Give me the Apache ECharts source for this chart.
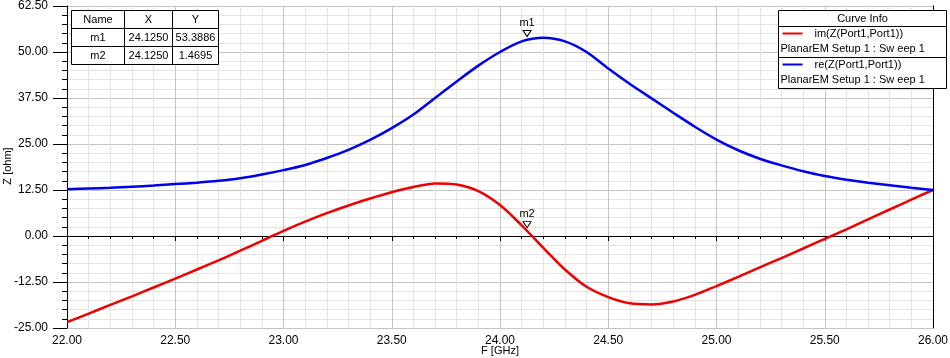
<!DOCTYPE html>
<html>
<head>
<meta charset="utf-8">
<script src="https://cdn.jsdelivr.net/npm/echarts@6/dist/echarts.min.js"></script>
<style>
  html, body { margin: 0; padding: 0; background: #fff; }
  #chart { width: 950px; height: 358px; }
</style>
</head>
<body>
<div id="chart"></div>
<script>
// frequency points (GHz)
var freq = [22.0, 22.1, 22.2, 22.3, 22.4, 22.5, 22.6, 22.7, 22.8, 22.9,
            23.0, 23.1, 23.2, 23.3, 23.4, 23.5, 23.6, 23.7, 23.8, 23.9,
            24.0, 24.1, 24.2, 24.3, 24.4, 24.5, 24.6, 24.7, 24.8, 24.9,
            25.0, 25.1, 25.2, 25.3, 25.4, 25.5, 25.6, 25.7, 25.8, 25.9, 26.0];
// re(Z(Port1,Port1))
var reZ = [12.7, 12.9, 13.1, 13.4, 13.7, 14.1, 14.5, 15.0, 15.7, 16.7,
           17.9, 19.3, 21.2, 23.4, 26.1, 29.3, 33.0, 37.5, 42.0, 46.3,
           50.0, 52.9, 53.9, 52.9, 50.0, 45.5, 41.3, 37.4, 33.5, 29.7,
           26.2, 23.3, 21.0, 19.2, 17.6, 16.3, 15.3, 14.5, 13.8, 13.1, 12.5];
// im(Z(Port1,Port1))
var imZ = [-23.4, -21.1, -18.7, -16.4, -14.0, -11.6, -9.1, -6.6, -4.0, -1.3,
           1.4, 3.9, 6.2, 8.3, 10.2, 11.9, 13.3, 14.3, 14.0, 12.2,
           8.4, 2.9, -3.2, -9.1, -13.8, -16.6, -18.3, -18.6, -17.8, -16.0,
           -13.6, -11.1, -8.5, -6.0, -3.4, -0.8, 1.8, 4.5, 7.2, 9.9, 12.5];

// marker table
var markerNames = ['m1', 'm2'];
var markerX = [24.1250, 24.1250];
var markerY = [53.3886, 1.4695];

// curve info
var curveNames = ['im(Z(Port1,Port1))', 're(Z(Port1,Port1))'];
var curveSetup = 'PlanarEM Setup 1 : Sw eep 1';
var curveColors = ['#f00000', '#0000f0'];

var xName = 'F [GHz]';
var yName = 'Z [ohm]';

var FONT = '"Liberation Sans", Arial, sans-serif';

function pairs(ys) {
  var out = [];
  for (var i = 0; i < freq.length; i++) out.push([freq[i], ys[i]]);
  return out;
}

function marker(i) {
  return {
    coord: [markerX[i], markerY[i]],
    symbol: 'triangle',
    symbolRotate: 180,
    symbolSize: [8, 6],
    symbolOffset: [0, -6],
    itemStyle: { color: '#fff', borderColor: '#000', borderWidth: 1 },
    label: {
      show: true, position: 'top', distance: 2,
      formatter: markerNames[i], color: '#000', fontSize: 11, fontFamily: FONT
    }
  };
}

// marker table (graphic)
var tbl = [];
var tx = 71.5, ty = 10.5, colW = [53, 48, 46], rowH = [18, 18, 18];
var tableRows = [['Name', 'X', 'Y']];
for (var i = 0; i < markerNames.length; i++) {
  tableRows.push([markerNames[i], markerX[i].toFixed(4), markerY[i].toFixed(4)]);
}
var totalW = colW[0] + colW[1] + colW[2];
var totalH = rowH[0] + rowH[1] + rowH[2];
tbl.push({ type: 'rect', shape: { x: tx, y: ty, width: totalW, height: totalH },
  style: { fill: '#fff', stroke: '#000', lineWidth: 1 }, z: 100 });
var cy = ty;
for (var r = 0; r < tableRows.length; r++) {
  var cx = tx;
  for (var c = 0; c < 3; c++) {
    tbl.push({ type: 'text', x: cx + colW[c] / 2, y: cy + rowH[r] / 2, z: 101,
      style: { text: tableRows[r][c], fill: '#000', font: '11px ' + FONT,
        align: 'center', verticalAlign: 'middle' } });
    cx += colW[c];
  }
  cy += rowH[r];
  if (r < tableRows.length - 1) {
    tbl.push({ type: 'line', shape: { x1: tx, y1: cy, x2: tx + totalW, y2: cy },
      style: { stroke: '#000', lineWidth: 1 }, z: 101 });
  }
}
tbl.push({ type: 'line', shape: { x1: tx + colW[0], y1: ty, x2: tx + colW[0], y2: ty + totalH },
  style: { stroke: '#000', lineWidth: 1 }, z: 101 });
tbl.push({ type: 'line', shape: { x1: tx + colW[0] + colW[1], y1: ty, x2: tx + colW[0] + colW[1], y2: ty + totalH },
  style: { stroke: '#000', lineWidth: 1 }, z: 101 });

// curve info box (graphic)
var bx = 778.5, by = 10.5, bw = 168, bh = 78;
tbl.push({ type: 'rect', shape: { x: bx, y: by, width: bw, height: bh },
  style: { fill: '#fff', stroke: '#000', lineWidth: 1 }, z: 100 });
tbl.push({ type: 'text', x: bx + bw / 2, y: by + 8, z: 101,
  style: { text: 'Curve Info', fill: '#000', font: '11px ' + FONT, align: 'center', verticalAlign: 'middle' } });
tbl.push({ type: 'line', shape: { x1: bx, y1: by + 16, x2: bx + bw, y2: by + 16 },
  style: { stroke: '#000', lineWidth: 1 }, z: 101 });
for (var k = 0; k < curveNames.length; k++) {
  var ry = by + 16 + k * 31;
  tbl.push({ type: 'line', shape: { x1: bx + 4, y1: ry + 7, x2: bx + 24, y2: ry + 7 },
    style: { stroke: curveColors[k], lineWidth: 2 }, z: 101 });
  tbl.push({ type: 'text', x: bx + 36, y: ry + 7, z: 101,
    style: { text: curveNames[k], fill: '#000', font: '11px ' + FONT, align: 'left', verticalAlign: 'middle' } });
  tbl.push({ type: 'text', x: bx + 2, y: ry + 22, z: 101,
    style: { text: curveSetup, fill: '#000', font: '11px ' + FONT, align: 'left', verticalAlign: 'middle' } });
  if (k === 0) {
    tbl.push({ type: 'line', shape: { x1: bx, y1: ry + 31, x2: bx + bw, y2: ry + 31 },
      style: { stroke: '#000', lineWidth: 1 }, z: 101 });
  }
}

// axis titles
tbl.push({ type: 'text', x: 500, y: 351, z: 101,
  style: { text: xName, fill: '#000', font: '11px ' + FONT, align: 'center', verticalAlign: 'middle' } });
tbl.push({ type: 'text', x: 8, y: 166, rotation: Math.PI / 2, z: 101,
  style: { text: yName, fill: '#000', font: '11px ' + FONT, align: 'center', verticalAlign: 'middle' } });

var chart = echarts.init(document.getElementById('chart'));
var option = {
  animation: false,
  backgroundColor: '#fff',
  textStyle: { fontFamily: FONT },
  grid: { left: 67, right: 17, top: 6, bottom: 30, outerBoundsMode: 'none', containLabel: false },
  xAxis: [{
    type: 'value', min: 22, max: 26, interval: 0.5,
    axisLine: { lineStyle: { color: '#000', width: 1 } },
    axisTick: { show: true, length: 5, lineStyle: { color: '#000' } },
    minorTick: { show: true, splitNumber: 5, length: 3, lineStyle: { color: '#000' } },
    axisLabel: { color: '#000', fontSize: 12, margin: 7, formatter: function (v) { return v.toFixed(2); } },
    splitLine: { show: true, lineStyle: { color: '#c4c4c4', width: 1 } },
    minorSplitLine: { show: true, lineStyle: { color: '#e4e4e4', width: 1 } }
  }, {
    type: 'value', position: 'top', min: 22, max: 26,
    axisLine: { show: true, lineStyle: { color: '#000', width: 1 } },
    axisTick: { show: false }, axisLabel: { show: false }, splitLine: { show: false }
  }],
  yAxis: [{
    type: 'value', min: -25, max: 62.5, interval: 12.5,
    axisLine: { show: true, lineStyle: { color: '#000', width: 1 } },
    axisTick: { show: true, length: 14, lineStyle: { color: '#000' } },
    minorTick: { show: true, splitNumber: 5, length: 5, lineStyle: { color: '#000' } },
    axisLabel: { color: '#000', fontSize: 12, margin: 19, formatter: function (v) { return v.toFixed(2); } },
    splitLine: { show: true, lineStyle: { color: '#c4c4c4', width: 1 } },
    minorSplitLine: { show: true, lineStyle: { color: '#e4e4e4', width: 1 } }
  }, {
    type: 'value', position: 'right', min: -25, max: 62.5,
    axisLine: { show: true, lineStyle: { color: '#000', width: 1 } },
    axisTick: { show: false }, axisLabel: { show: false }, splitLine: { show: false }
  }],
  series: [{
    name: curveNames[0], type: 'line', data: pairs(imZ),
    showSymbol: false, smooth: 0.3,
    lineStyle: { color: curveColors[0], width: 2.5 },
    markPoint: { data: [marker(1)] }, z: 3
  }, {
    name: curveNames[1], type: 'line', data: pairs(reZ),
    showSymbol: false, smooth: 0.3,
    lineStyle: { color: curveColors[1], width: 2.5 },
    markPoint: { data: [marker(0)] }, z: 3
  }],
  graphic: tbl
};
chart.setOption(option);
</script>
</body>
</html>
